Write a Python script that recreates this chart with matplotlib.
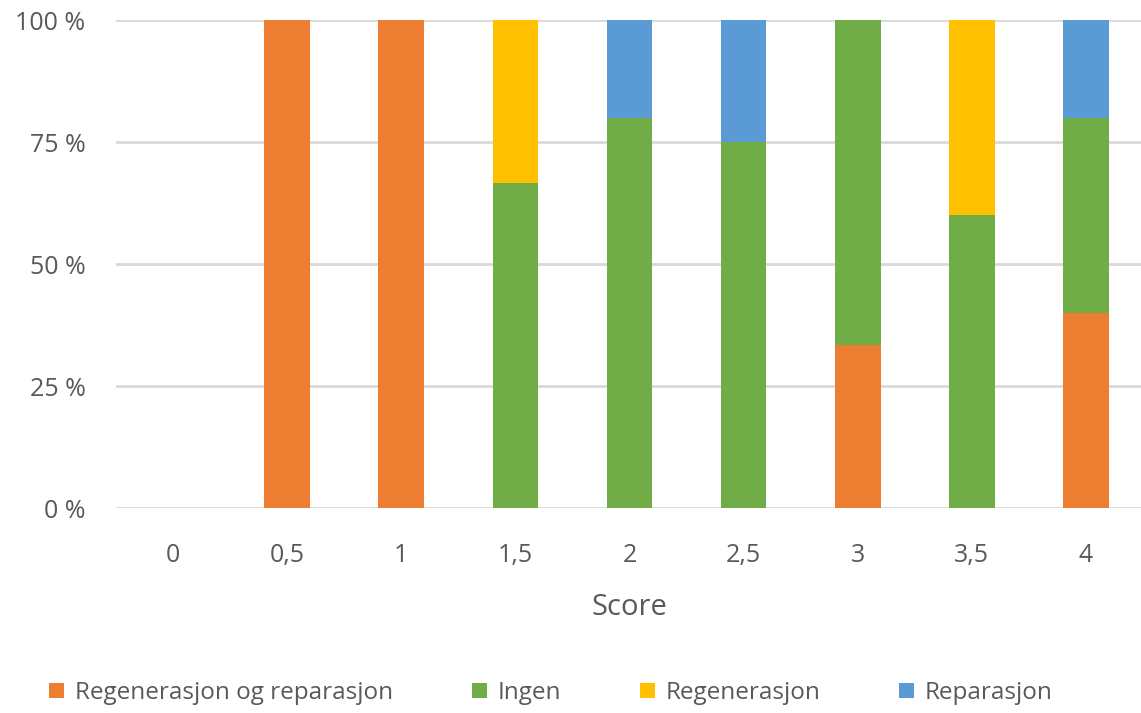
import matplotlib
matplotlib.use("Agg")
import matplotlib.pyplot as plt
from matplotlib.ticker import FuncFormatter
import numpy as np

categories = ["0", "0,5", "1", "1,5", "2", "2,5", "3", "3,5", "4"]
series_names = ["Regenerasjon og reparasjon", "Ingen", "Regenerasjon", "Reparasjon"]
regen_og_rep = [0, 100, 100, 0, 0, 0, 33.3, 0, 40]
ingen =        [0, 0, 0, 66.7, 80, 75, 66.7, 60, 40]
regenerasjon = [0, 0, 0, 33.3, 0, 0, 0, 40, 0]
reparasjon =   [0, 0, 0, 0, 20, 25, 0, 0, 20]
colors = ["#ED7D31", "#70AD47", "#FFC000", "#5B9BD5"]

plt.rcParams['font.family'] = ['Open Sans', 'DejaVu Sans']
txt = "#595959"

fig = plt.figure(figsize=(11.41, 7.13), dpi=100)
ax = fig.add_axes([116/1141, 1 - 508/713, (1143-116)/1141, (508-20)/713])

x = np.arange(len(categories))
bottom = np.zeros(len(categories))
for name, vals, c in zip(series_names, [regen_og_rep, ingen, regenerasjon, reparasjon], colors):
    vals = np.array(vals, dtype=float)
    ax.bar(x, vals, 0.4, bottom=bottom, color=c, label=name, zorder=3)
    bottom += vals

ax.set_xlim(-0.5, len(categories) - 0.5)
ax.set_ylim(0, 100)
ax.set_yticks([0, 25, 50, 75, 100])
ax.yaxis.set_major_formatter(FuncFormatter(lambda v, p: f"{int(v)} %"))
ax.set_xticks(x)
ax.set_xticklabels(categories)
ax.grid(axis='y', color='#d9d9d9', linewidth=2, zorder=0)
for s in ax.spines.values():
    s.set_visible(False)
ax.tick_params(length=0, labelsize=18, colors=txt)
ax.tick_params(axis='x', pad=25)
ax.tick_params(axis='y', pad=22)
ax.set_xlabel("Score", fontsize=21, color=txt, labelpad=18)

fig.legend(loc='center', bbox_to_anchor=(551/1141, 1 - 693/713), ncol=4, frameon=False,
           fontsize=17.5, labelcolor=txt, handlelength=0.6, handleheight=0.6,
           handletextpad=0.45, columnspacing=3.25)

fig.savefig("out.png", dpi=100)
